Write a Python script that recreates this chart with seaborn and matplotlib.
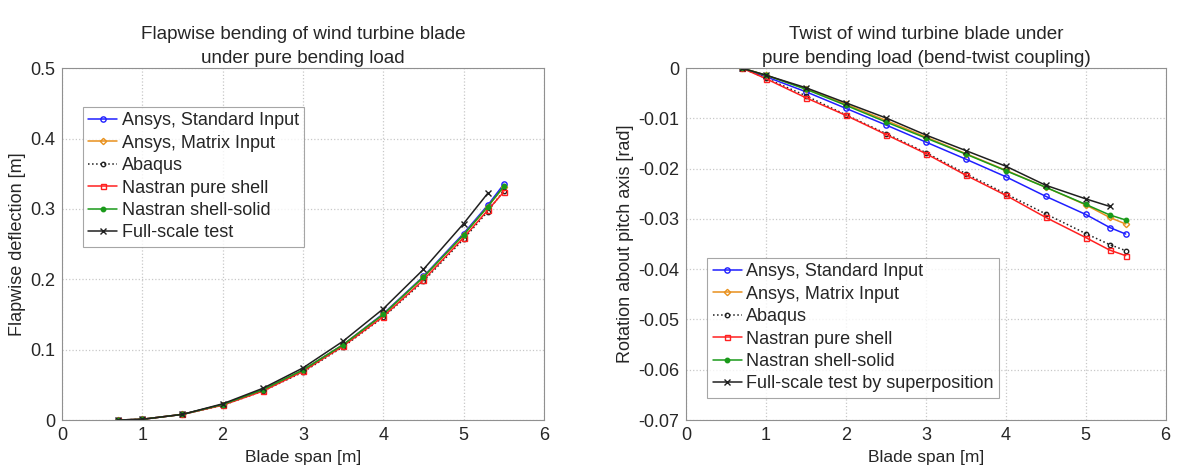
import numpy as np
import pandas as pd
import matplotlib
matplotlib.use("Agg")
import matplotlib.pyplot as plt
import seaborn as sns

# datos
span = [0.7, 1.0, 1.5, 2.0, 2.5, 3.0, 3.5, 4.0, 4.5, 5.0, 5.3, 5.5]
span_test = [0.7, 1.0, 1.5, 2.0, 2.5, 3.0, 3.5, 4.0, 4.5, 5.0, 5.3]

# Flapwise deflection [m]
defl_ansys_std = [0, 0.001, 0.008, 0.022, 0.043, 0.071, 0.107, 0.151, 0.204, 0.265, 0.305, 0.335]
defl_ansys_mat = [0, 0.001, 0.008, 0.022, 0.043, 0.071, 0.107, 0.150, 0.203, 0.263, 0.303, 0.331]
defl_abaqus = [0, 0.001, 0.008, 0.021, 0.041, 0.068, 0.104, 0.146, 0.197, 0.257, 0.296, 0.326]
defl_nastran_shell = [0, 0.001, 0.008, 0.021, 0.041, 0.069, 0.105, 0.147, 0.199, 0.259, 0.298, 0.324]
defl_nastran_solid = [0, 0.001, 0.008, 0.022, 0.043, 0.071, 0.107, 0.150, 0.203, 0.263, 0.303, 0.332]
defl_test = [0, 0.001, 0.008, 0.023, 0.045, 0.074, 0.112, 0.158, 0.214, 0.279, 0.322]

# Rotation about pitch axis [rad]
rot_ansys_std = [0, -0.0017, -0.0047, -0.0080, -0.0113, -0.0147, -0.0181, -0.0216, -0.0255, -0.0291, -0.0317, -0.0330]
rot_ansys_mat = [0, -0.0014, -0.0041, -0.0072, -0.0104, -0.0137, -0.0170, -0.0203, -0.0237, -0.0272, -0.0297, -0.0310]
rot_abaqus = [0, -0.0020, -0.0055, -0.0093, -0.0130, -0.0168, -0.0210, -0.0250, -0.0290, -0.0329, -0.0351, -0.0363]
rot_nastran_shell = [0, -0.0021, -0.0059, -0.0094, -0.0132, -0.0170, -0.0213, -0.0253, -0.0297, -0.0337, -0.0362, -0.0373]
rot_nastran_solid = [0, -0.0014, -0.0042, -0.0074, -0.0107, -0.0139, -0.0171, -0.0204, -0.0237, -0.0271, -0.0292, -0.0302]
rot_test = [0, -0.0014, -0.0039, -0.0069, -0.0099, -0.0133, -0.0164, -0.0195, -0.0233, -0.0260, -0.0275]

sns.set_style("white")
plt.rcParams['font.family'] = ['Liberation Sans', 'DejaVu Sans']

# estilo de cada serie: (color, marcador, linea, relleno, tamaño)
estilos = [
    ("#1f1fff", "o", "-", "none", 3.8),
    ("#e8901c", "D", "-", "none", 3.2),
    ("#202020", "o", ":", "none", 3.2),
    ("#ff2020", "s", "-", "none", 3.6),
    ("#1a9a1a", "o", "-", "#1a9a1a", 3.2),
    ("#202020", "x", "-", "#202020", 4.5),
]

fig = plt.figure(figsize=(11.81, 4.66), dpi=100)
ax1 = fig.add_axes([0.0525, 0.0987, 0.408, 0.755])
ax2 = fig.add_axes([0.581, 0.0987, 0.406, 0.755])


def dibujar(ax, series, nombres):
    for (xs, ys), nombre, (c, m, ls, fc, ms) in zip(series, nombres, estilos):
        sns.lineplot(x=xs, y=ys, ax=ax, color=c, marker=m, linestyle=ls,
                     markerfacecolor=fc, markeredgecolor=c, markersize=ms,
                     markeredgewidth=1.0, linewidth=1.1, label=nombre,
                     estimator=None, sort=False)


nombres1 = ["Ansys, Standard Input", "Ansys, Matrix Input", "Abaqus",
            "Nastran pure shell", "Nastran shell-solid", "Full-scale test"]
series1 = [(span, defl_ansys_std), (span, defl_ansys_mat), (span, defl_abaqus),
           (span, defl_nastran_shell), (span, defl_nastran_solid), (span_test, defl_test)]
dibujar(ax1, series1, nombres1)

nombres2 = nombres1[:-1] + ["Full-scale test by superposition"]
series2 = [(span, rot_ansys_std), (span, rot_ansys_mat), (span, rot_abaqus),
           (span, rot_nastran_shell), (span, rot_nastran_solid), (span_test, rot_test)]
dibujar(ax2, series2, nombres2)

for ax in (ax1, ax2):
    ax.set_xlim(0, 6)
    ax.set_xticks(range(0, 7))
    ax.grid(True, linestyle=":", color="#c8c8c8", linewidth=0.9)
    ax.tick_params(labelsize=13, length=3, direction="in", pad=5)
    for s in ax.spines.values():
        s.set_color("#909090")
        s.set_linewidth(0.8)
    ax.set_xlabel("Blade span [m]", fontsize=12.5, labelpad=4)

ax1.set_ylim(0, 0.5)
ax1.set_yticks([0, 0.1, 0.2, 0.3, 0.4, 0.5])
ax1.set_yticklabels(["0", "0.1", "0.2", "0.3", "0.4", "0.5"])
ax1.set_ylabel("Flapwise deflection [m]", fontsize=13, labelpad=3)
ax1.set_title("Flapwise bending of wind turbine blade\nunder pure bending load",
              fontsize=13.6, pad=4, linespacing=1.5)
leg1 = ax1.legend(loc="upper left", bbox_to_anchor=(0.043, 0.89), fontsize=13,
                  handlelength=1.6, handletextpad=0.25, labelspacing=0.3,
                  borderpad=0.3, borderaxespad=0, frameon=True, fancybox=False)

ax2.set_ylim(-0.07, 0)
ax2.set_yticks([0, -0.01, -0.02, -0.03, -0.04, -0.05, -0.06, -0.07])
ax2.set_yticklabels(["0", "-0.01", "-0.02", "-0.03", "-0.04", "-0.05", "-0.06", "-0.07"])
ax2.set_ylabel("Rotation about pitch axis [rad]", fontsize=13, labelpad=3)
ax2.set_title("Twist of wind turbine blade under\npure bending load (bend-twist coupling)",
              fontsize=13.6, pad=4, linespacing=1.5)
leg2 = ax2.legend(loc="lower left", bbox_to_anchor=(0.044, 0.063), fontsize=13,
                  handlelength=1.6, handletextpad=0.25, labelspacing=0.3,
                  borderpad=0.3, borderaxespad=0, frameon=True, fancybox=False)

for leg in (leg1, leg2):
    leg.get_frame().set_edgecolor("#909090")
    leg.get_frame().set_linewidth(0.8)

plt.savefig("out.png", dpi=100)
